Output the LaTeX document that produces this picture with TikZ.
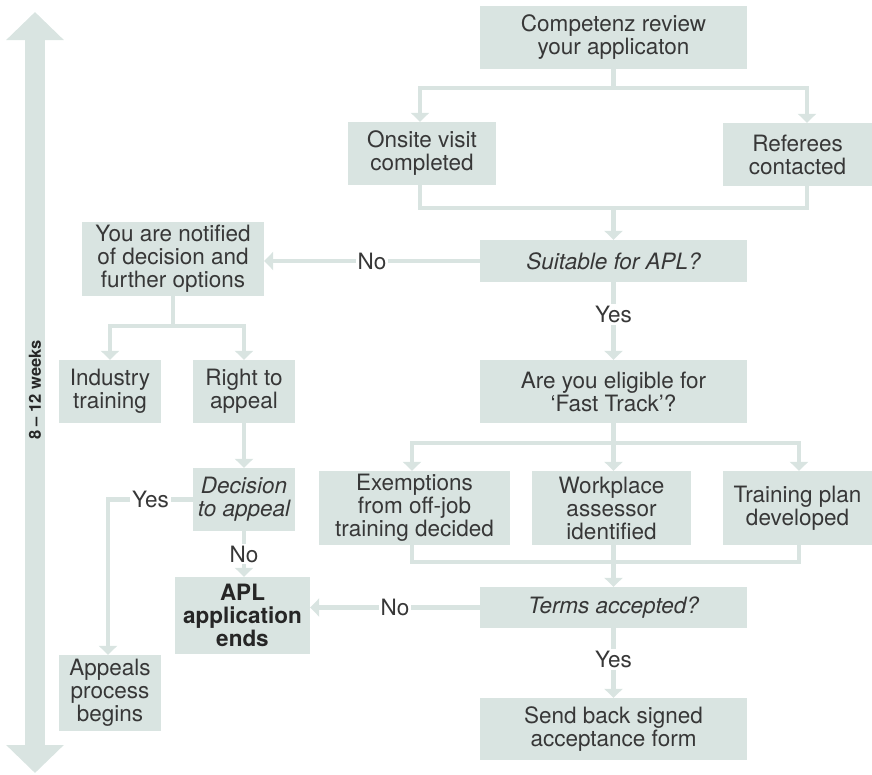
\documentclass[tikz,border=0pt]{standalone}
\usepackage{fontspec}
\setmainfont{TeX Gyre Heros}
\usepackage{tikz}
\usepackage{xcolor}
\usetikzlibrary{positioning,arrows.meta}

\definecolor{boxc}{RGB}{217,228,225}
\definecolor{textc}{RGB}{55,55,55}
\newcommand{\bigsz}{\fontsize{22.5}{23}\selectfont}
\newcommand{\smallsz}{\fontsize{16.5}{17}\selectfont}
\tikzset{bx/.style 2 args={fill=boxc,inner sep=0pt,minimum width=#1pt,minimum height=#2pt}}

\begin{document}
\begin{tikzpicture}[x=1pt,y=-1pt]%[scale=2.5]
\tikzstyle{every node}=[text=textc,font=\bigsz,align=center]
\tikzstyle{lbl}=[fill=white,inner sep=2pt]
\tikzstyle{flow}=[draw=boxc,line width=4.5pt]
\tikzstyle{arr}=[flow,-{Triangle[width=18pt,length=9pt]}]

\useasboundingbox (0,0) rectangle (872,774);

% time line
\coordinate (top) at (35,12);
\coordinate (bot) at (35,773);
\draw[draw=boxc,line width=20pt,{Triangle[width=56pt,length=28pt]}-{Triangle[width=56pt,length=28pt]}] (top) -- (bot);
\node[rotate=90,font=\smallsz\bfseries,text=black!85] (wk) at (35,390) {8 – 12 weeks};

\node[bx={267}{63}] (rev) at (613.5,37.5) {Competenz review\\your applicaton};
\node[bx={148}{63}] (ons) at (422,153.5) {Onsite visit\\completed};
\node[bx={149}{63}] (ref) at (797.5,154.5) {Referees\\contacted};
\node[bx={267}{42},font=\bigsz\itshape] (suit) at (613.5,261) {Suitable for APL?};
\node[bx={182}{74}] (notif) at (173,259) {You are notified\\of decision and\\further options};
\node[bx={267}{63}] (elig) at (613.5,391.5) {Are you eligible for\\‘Fast Track’?};
\node[bx={191}{74}] (exe) at (414.5,508) {Exemptions\\from off-job\\training decided};
\node[bx={159}{74}] (work) at (611.5,508) {Workplace\\assessor\\identified};
\node[bx={149}{74}] (plan) at (797.5,508) {Training plan\\developed};
\node[bx={267}{41},font=\bigsz\itshape] (terms) at (613.5,607.5) {Terms accepted?};
\node[bx={267}{62}] (send) at (613.5,729) {Send back signed\\acceptance form};
\node[bx={102}{63}] (ind) at (110,391.5) {Industry\\training};
\node[bx={102}{63}] (rta) at (244,391.5) {Right to\\appeal};
\node[bx={102}{63},font=\bigsz\itshape] (dec) at (244,499.5) {Decision\\to appeal};
\node[bx={135}{77},font=\bigsz\bfseries,text=black!85] (apl) at (242.5,615.5) {APL\\application\\ends};
\node[bx={102}{76}] (app) at (110,693) {Appeals\\process\\begins};

% review
\coordinate (b1) at (613.5,88);
\coordinate (m1) at (613.5,208);
\draw[flow] (rev) -- (b1);
\draw[arr] (b1) -| ([xshift=-2pt]ons.north);
\draw[arr] (b1) -| ([xshift=9.5pt]ref.north);
\draw[flow] ([xshift=-2pt]ons.south) |- (m1) -| ([xshift=9.5pt]ref.south);
\draw[arr] (m1) -- (suit);
\draw[arr] (suit.west) -- node[lbl]{No} (suit.west -| notif.east);
\draw[arr] (suit) -- node[lbl,pos=0.42]{Yes} (elig);

% fast track
\coordinate (b2) at (613.5,443);
\coordinate (m2) at (613.5,562);
\draw[flow] (elig) -- (b2);
\draw[arr] (b2) -| ([xshift=-2.5pt]exe.north);
\draw[arr] (b2) -- (b2 |- work.north);
\draw[arr] (b2) -| ([xshift=1.5pt]plan.north);
\draw[flow] ([xshift=-2.5pt]exe.south) |- (m2) -| ([xshift=1.5pt]plan.south);
\draw[arr] (m2 |- work.south) -- (terms);
\draw[arr] (terms.west) -- node[lbl]{No} (terms.west -| apl.east);
\draw[arr] (terms) -- node[lbl,pos=0.45]{Yes} (send);

% options
\coordinate (b3) at (173,326);
\draw[flow] (notif) -- (b3);
\draw[arr] (b3) -| (ind.north);
\draw[arr] (b3) -| (rta.north);
\draw[arr] (rta) -- (dec);
\draw[arr] (dec.west) -| node[lbl,pos=0.25]{Yes} ([xshift=-2pt]app.north);
\draw[arr] (dec.south) -- node[lbl]{No} (dec.south |- apl.north);
\end{tikzpicture}
\end{document}
